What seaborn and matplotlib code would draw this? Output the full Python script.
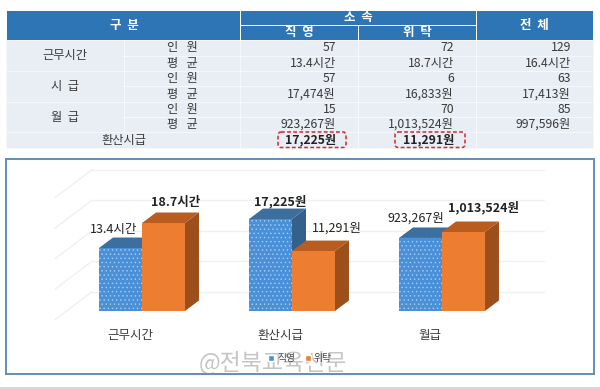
import matplotlib
matplotlib.use('Agg')
import matplotlib.pyplot as plt
from matplotlib.patches import Rectangle, Polygon, FancyBboxPatch, Patch
from matplotlib.transforms import ScaledTranslation
import pandas as pd
import seaborn as sns

categories = ['근무시간', '환산시급', '월급']
groups = ['직영', '위탁']
jikyeong_heights = [41.3, 60.3, 47.9]
wiyak_heights = [57.7, 39.3, 51.8]
jikyeong_labels = ['13.4시간', '17,225원', '923,267원']
wiyak_labels = ['18.7시간', '11,291원', '1,013,524원']
grid_levels = [20, 40, 60, 80, 100]

# table values
row_names = ['근무시간', '시  급', '월  급']
sub_names = ['인   원', '평   균']
col_jikyeong = ['57', '13.4시간', '57', '17,474원', '15', '923,267원']
col_wiyak = ['72', '18.7시간', '6', '16,833원', '70', '1,013,524원']
col_total = ['129', '16.4시간', '63', '17,413원', '85', '997,596원']
total_name = '환산시급'
total_values = ['17,225원', '11,291원']

sns.set_theme(style='white')
plt.rcParams['font.family'] = ['Noto Sans CJK KR', 'DejaVu Sans']
plt.rcParams['hatch.linewidth'] = 0.5

HEAD = '#2E75B6'
ROW = '#E9EDF4'
TXT = '#3a3a3a'
TFS = 8.8

fig = plt.figure(figsize=(6, 3.89), dpi=100)
W, H = 600, 389

# background axes in pixels for table and frame
bg = fig.add_axes([0, 0, 1, 1])
bg.set_xlim(0, W)
bg.set_ylim(H, 0)
bg.axis('off')

col_x = [6, 124, 240, 358, 476, 593]
row_y = [40, 55.5, 71, 86, 102, 117, 132, 148]


def cell(x0, y0, x1, y1, color, edge='#F6F8FB'):
    bg.add_patch(Rectangle((x0, y0), x1 - x0, y1 - y0, fc=color, ec=edge, lw=0.7))


# header
cell(6, 10, 240, 40, HEAD, 'white')
cell(240, 10, 476, 25, HEAD, 'white')
cell(240, 25, 358, 40, HEAD, 'white')
cell(358, 25, 476, 40, HEAD, 'white')
cell(476, 10, 593, 40, HEAD, 'white')
head_text = dict(color='white', fontsize=9, fontweight='bold', ha='center', va='center')
bg.text(124, 25, '구  분', **head_text)
bg.text(358, 17.5, '소  속', **head_text)
bg.text(299, 32.5, '직  영', **head_text)
bg.text(417, 32.5, '위  탁', **head_text)
bg.text(534, 25, '전  체', **head_text)

# body
for i in range(3):
    cell(6, row_y[i * 2], 124, row_y[i * 2 + 2], ROW)
    bg.text(65, row_y[i * 2 + 1], row_names[i], fontsize=TFS, color=TXT, ha='center', va='center')
for i in range(6):
    y0, y1 = row_y[i], row_y[i + 1]
    ym = (y0 + y1) / 2
    for j in range(1, 5):
        cell(col_x[j], y0, col_x[j + 1], y1, ROW)
    bg.text(182, ym, sub_names[i % 2], fontsize=TFS, color=TXT, ha='center', va='center')
    bg.text(336, ym, col_jikyeong[i], fontsize=TFS, color=TXT, ha='right', va='center')
    bg.text(454, ym, col_wiyak[i], fontsize=TFS, color=TXT, ha='right', va='center')
    bg.text(571, ym, col_total[i], fontsize=TFS, color=TXT, ha='right', va='center')

cell(6, 132, 240, 148, ROW)
cell(240, 132, 358, 148, ROW)
cell(358, 132, 476, 148, ROW)
cell(476, 132, 593, 148, ROW)
bg.text(124, 140, total_name, fontsize=TFS, color=TXT, ha='center', va='center')
bg.text(336, 140, total_values[0], fontsize=TFS, fontweight='bold', color='#222222', ha='right', va='center')
bg.text(454, 140, total_values[1], fontsize=TFS, fontweight='bold', color='#222222', ha='right', va='center')

# red dashed boxes
for x0, x1 in [(278, 346), (395, 465)]:
    bg.add_patch(FancyBboxPatch((x0, 132), x1 - x0, 15.5, boxstyle='round,pad=0,rounding_size=3',
                                fc='none', ec='#D8262C', lw=1.1, ls=(0, (2.5, 1.5))))

# chart frame and bottom line
bg.add_patch(Rectangle((6, 158.5), 588, 215.5, fc='white', ec='#5F8FB5', lw=1.4))
bg.plot([0, W], [388, 388], color='#cfcfcf', lw=1.2)

# bar chart
ax = fig.add_axes([67 / W, (H - 311) / H, 450 / W, 152.5 / H])
ax.patch.set_alpha(0)
df = pd.DataFrame({
    'category': categories * 2,
    'group': [groups[0]] * 3 + [groups[1]] * 3,
    'height': jikyeong_heights + wiyak_heights,
})
sns.barplot(data=df, x='category', y='height', hue='group', order=categories, hue_order=groups,
            palette=['#4A90D9', '#ED7D31'], width=0.573, gap=0, saturation=1, legend=False,
            linewidth=0, ax=ax)
ax.set_xlim(-0.5, 2.5)
ax.set_ylim(0, 100)
ax.set_xlabel('')
ax.set_ylabel('')
ax.set_xticks([])
ax.set_yticks([])
sns.despine(ax=ax, left=True, bottom=True)

# back wall lines with the slanted part on the left
px_x = 1 / 150
wall = ax.transData + ScaledTranslation(0, -11.2 / 100, fig.dpi_scale_trans)
for lev in grid_levels:
    ax.plot([-0.333, 2.68], [lev, lev], color='#f0f0f0', lw=1, transform=wall, clip_on=False, zorder=0.5)
    ax.plot([-0.333 - 37 * px_x, -0.333], [lev - 28 / 1.525, lev], color='#f0f0f0', lw=1,
            transform=wall, clip_on=False, zorder=0.5)

# fake 3d depth on the bars
dx = 14 * px_x
dy = 10.5 / 1.525
shades = [('#3C6E9E', '#34608C'), ('#B85C20', '#9C4F1B')]
for k, cont in enumerate(ax.containers):
    top_c, side_c = shades[k]
    base_z = 2 + k * 2
    for bar in cont:
        x0, x1, h = bar.get_x(), bar.get_x() + bar.get_width(), bar.get_height()
        ax.add_patch(Polygon([(x0, h), (x1, h), (x1 + dx, h + dy), (x0 + dx, h + dy)], fc=top_c, ec='none',
                             clip_on=False, zorder=base_z))
        ax.add_patch(Polygon([(x1, 0), (x1 + dx, dy), (x1 + dx, h + dy), (x1, h)], fc=side_c, ec='none',
                             clip_on=False, zorder=base_z))
        bar.set_zorder(base_z + 1)
        if k == 0:
            bar.set_hatch('....')
            bar.set_edgecolor('#A9CDEF')
            bar.set_linewidth(0)

# value labels
off_jikyeong = [(-7, 19), (10, 18), (-5, 20)]
off_wiyak = [(12, 21), (23, 23), (20, 24)]
bold_jikyeong = ['normal', 'bold', 'normal']
bold_wiyak = ['bold', 'normal', 'bold']
for cont, labels, offs, weights in [(ax.containers[0], jikyeong_labels, off_jikyeong, bold_jikyeong),
                                    (ax.containers[1], wiyak_labels, off_wiyak, bold_wiyak)]:
    for bar, lab, off, wt in zip(cont, labels, offs, weights):
        ax.annotate(lab, (bar.get_x() + bar.get_width() / 2, bar.get_height()), xytext=off,
                    textcoords='offset pixels', ha='center', va='center', fontsize=9, fontweight=wt,
                    color='#222222', annotation_clip=False, zorder=10)

# category names under the bars
for i, name in enumerate(categories):
    ax.annotate(name, (i, 0), xytext=(-12, -25), textcoords='offset pixels', ha='center', va='center',
                fontsize=9, color=TXT, annotation_clip=False)

handles = [Patch(fc='#4A90D9', label=groups[0]), Patch(fc='#ED7D31', label=groups[1])]
fig.legend(handles=handles, ncols=2, loc='center', bbox_to_anchor=(300 / W, (H - 358.5) / H), frameon=False,
           fontsize=7, handlelength=0.6, handleheight=0.6, handletextpad=0.3, columnspacing=1.0,
           labelcolor='#444444')

# watermark
fig.text(273 / W, (H - 362) / H, '@전북교육신문', fontsize=16.5, color='#8c8c8c', alpha=0.5, ha='center', va='center')

fig.savefig('out.png', dpi=100)
